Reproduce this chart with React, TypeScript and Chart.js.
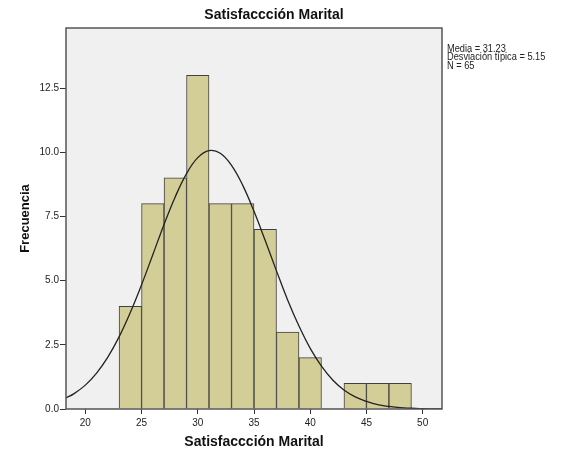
import React, { useEffect, useRef } from 'react';
import { Chart, registerables } from 'chart.js';

Chart.register(...registerables);

// Histogram bins (lower edges, width 2) and frequencies
const binStarts = [23, 25, 27, 29, 31, 33, 35, 37, 39, 41, 43, 45, 47];
const counts = [4, 8, 9, 13, 8, 8, 7, 3, 2, 0, 1, 1, 1];
const binWidth = 2;

// Normal curve
const curveX = [18.28, 19, 20, 21, 22, 23, 24, 25, 26, 27, 28, 29, 30, 31, 32, 33, 34, 35, 36, 37, 38, 39, 40, 41, 42, 43, 44, 45, 46, 47, 48, 49, 50, 51, 51.72];
const curveY = [0.43, 0.6, 0.93, 1.4, 2.02, 2.81, 3.76, 4.84, 6.01, 7.19, 8.27, 9.17, 9.79, 10.06, 9.96, 9.49, 8.71, 7.7, 6.56, 5.38, 4.24, 3.23, 2.36, 1.67, 1.13, 0.74, 0.47, 0.3, 0.17, 0.1, 0.05, 0.03, 0.01, 0.005, 0.002];

const xTicks = [20, 25, 30, 35, 40, 45, 50];
const yTicks = [0, 2.5, 5, 7.5, 10, 12.5];
const xMin = 18.28;
const xMax = 51.72;
const yMax = 14.84;

const chartTitle = 'Satisfaccción Marital';
const xTitle = 'Satisfaccción Marital';
const yTitle = 'Frecuencia';
const statLines = ['Media = 31.23', 'Desviación típica = 5.15', 'N = 65'];

const FONT = "'Liberation Sans', Arial, sans-serif";

const decorPlugin = {
  id: 'decor',
  beforeDraw(chart: any) {
    const { ctx, chartArea: a } = chart;
    ctx.save();
    ctx.fillStyle = '#ffffff';
    ctx.fillRect(0, 0, chart.width, chart.height);
    ctx.fillStyle = '#f0f0f0';
    ctx.fillRect(a.left, a.top, a.right - a.left, a.bottom - a.top);
    ctx.restore();
  },
  afterDraw(chart: any) {
    const { ctx, chartArea: a } = chart;
    ctx.save();
    ctx.strokeStyle = '#555555';
    ctx.lineWidth = 1.5;
    ctx.strokeRect(a.left, a.top, a.right - a.left, a.bottom - a.top);

    ctx.fillStyle = '#111111';
    ctx.textAlign = 'center';
    ctx.textBaseline = 'middle';
    ctx.font = `bold 14px ${FONT}`;
    ctx.fillText(chartTitle, 274, 15);

    ctx.font = `bold 14px ${FONT}`;
    ctx.fillText(xTitle, (a.left + a.right) / 2, 442);

    ctx.save();
    ctx.translate(25, (a.top + a.bottom) / 2);
    ctx.rotate(-Math.PI / 2);
    ctx.font = `bold 13px ${FONT}`;
    ctx.fillText(yTitle, 0, 0);
    ctx.restore();

    ctx.textAlign = 'left';
    ctx.font = `11px ${FONT}`;
    ctx.fillStyle = '#222222';
    statLines.forEach((s, i) => {
      ctx.save();
      ctx.translate(447, 48.5 + i * 8.8);
      ctx.scale(0.84, 1);
      ctx.fillText(s, 0, 0);
      ctx.restore();
    });
    ctx.restore();
  },
};

export default function App() {
  const ref = useRef<HTMLCanvasElement | null>(null);

  useEffect(() => {
    if (!ref.current) return;
    const barData = binStarts.map((s, i) => ({ x: s + binWidth / 2, y: counts[i] }));
    const lineData = curveX.map((x, i) => ({ x, y: curveY[i] }));
    const chart = new Chart(ref.current, {
      type: 'bar',
      data: {
        datasets: [
          {
            type: 'line',
            data: lineData,
            borderColor: '#222222',
            borderWidth: 1.3,
            pointRadius: 0,
            tension: 0.4,
            fill: false,
            order: 0,
          } as any,
          {
            type: 'bar',
            data: barData,
            backgroundColor: '#d3ce97',
            borderColor: '#404040',
            borderWidth: (c: any) => (c.raw && c.raw.y === 0 ? 0 : 1),
            barPercentage: 1,
            categoryPercentage: 1,
            grouped: false,
            order: 1,
          } as any,
        ],
      },
      options: {
        animation: false,
        responsive: false,
        devicePixelRatio: 1,
        layout: { padding: { left: 0, top: 28, right: 123, bottom: 0 } },
        plugins: {
          legend: { display: false },
          title: { display: false },
          tooltip: { enabled: false },
        },
        scales: {
          x: {
            type: 'linear',
            min: xMin,
            max: xMax,
            offset: false,
            grid: { offset: false, drawOnChartArea: false, drawTicks: true, tickLength: 5, color: '#333333' },
            border: { display: false },
            ticks: {
              includeBounds: false,
              font: { family: FONT, size: 10 },
              color: '#222222',
              padding: 3,
              maxRotation: 0,
            },
            afterBuildTicks: (s: any) => {
              s.ticks = xTicks.map((v) => ({ value: v }));
            },
            afterFit: (s: any) => {
              s.height = 43;
            },
          },
          y: {
            type: 'linear',
            min: 0,
            max: yMax,
            grid: { drawOnChartArea: false, drawTicks: true, tickLength: 6, color: '#333333' },
            border: { display: false },
            ticks: {
              font: { family: FONT, size: 10 },
              color: '#222222',
              padding: 1,
              callback: (v: any) => Number(v).toFixed(1),
            },
            afterBuildTicks: (s: any) => {
              s.ticks = yTicks.map((v) => ({ value: v }));
            },
            afterFit: (s: any) => {
              s.width = 66;
            },
          },
        },
      } as any,
      plugins: [decorPlugin],
    });
    return () => chart.destroy();
  }, []);

  return (
    <div style={{ position: 'fixed', left: 0, top: 0, width: 565, height: 452, background: '#ffffff' }}>
      <canvas ref={ref} width={565} height={452} style={{ display: 'block' }} />
    </div>
  );
}
